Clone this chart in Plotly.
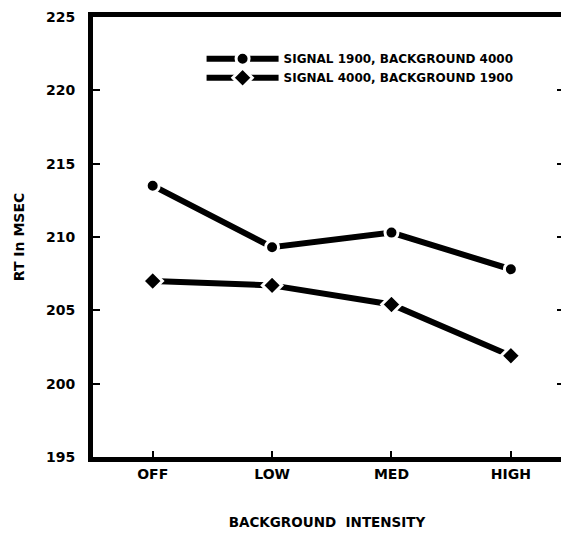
import plotly.graph_objects as go

categories = ["OFF", "LOW", "MED", "HIGH"]
series_names = ["SIGNAL 1900, BACKGROUND 4000", "SIGNAL 4000, BACKGROUND 1900"]
signal1900 = [213.5, 209.3, 210.3, 207.8]
signal4000 = [207.0, 206.7, 205.4, 201.9]
y_ticks = [195, 200, 205, 210, 215, 220, 225]

FONT = "DejaVu Sans"
xs = list(range(len(categories)))

fig = go.Figure()
fig.add_trace(go.Scatter(
    x=xs, y=signal1900, name=series_names[0], mode="lines+markers",
    line=dict(color="black", width=6),
    marker=dict(symbol="circle", size=13, color="black", line=dict(color="white", width=3)),
))
fig.add_trace(go.Scatter(
    x=xs, y=signal4000, name=series_names[1], mode="lines+markers",
    line=dict(color="black", width=6),
    marker=dict(symbol="diamond", size=15, color="black", line=dict(color="white", width=3)),
))

fig.update_layout(
    width=561, height=533,
    margin=dict(l=93, r=0, t=17, b=76),
    paper_bgcolor="white", plot_bgcolor="white",
    font=dict(family=FONT, color="black", size=11, weight="bold"),
    showlegend=True,
    legend=dict(x=0.232, y=0.938, xanchor="left", yanchor="top",
                bgcolor="rgba(0,0,0,0)", itemwidth=72,
                font=dict(size=12, family=FONT, weight="bold"), tracegroupgap=0),
    xaxis=dict(
        range=[-0.5, 3.42], tickmode="array", tickvals=xs, ticktext=categories,
        showgrid=False, zeroline=False, showline=True, linecolor="black", linewidth=5,
        mirror=True, ticks="inside", ticklen=6, tickwidth=2, tickcolor="black",
        tickfont=dict(size=14, family=FONT, weight="bold"),
        title=dict(text="BACKGROUND  INTENSITY", standoff=38,
                   font=dict(size=13.5, family=FONT, weight="bold")),
        automargin=False,
    ),
    yaxis=dict(
        range=[195, 225], tickmode="array", tickvals=y_ticks,
        showgrid=False, zeroline=False, showline=True, linecolor="black", linewidth=5,
        ticks="inside", ticklen=7, tickwidth=2, tickcolor="black",
        ticklabelstandoff=10,
        tickfont=dict(size=14, family=FONT, weight="bold"),
        title=dict(text="RT In MSEC", standoff=20,
                   font=dict(size=14, family=FONT, weight="bold")),
        automargin=False,
    ),
    yaxis2=dict(
        matches="y", overlaying="y", side="right", showticklabels=False,
        showgrid=False, zeroline=False, showline=False,
        ticks="inside", ticklen=4, tickwidth=2, tickcolor="black",
        tickmode="array", tickvals=y_ticks[1:-1],
    ),
)
fig.add_trace(go.Scatter(x=[None], y=[None], yaxis="y2", showlegend=False, hoverinfo="skip"))

fig.write_html(
    "out.html",
    config={"displayModeBar": False},
    post_script="document.body.style.margin='0';document.body.style.overflow='hidden';",
)
